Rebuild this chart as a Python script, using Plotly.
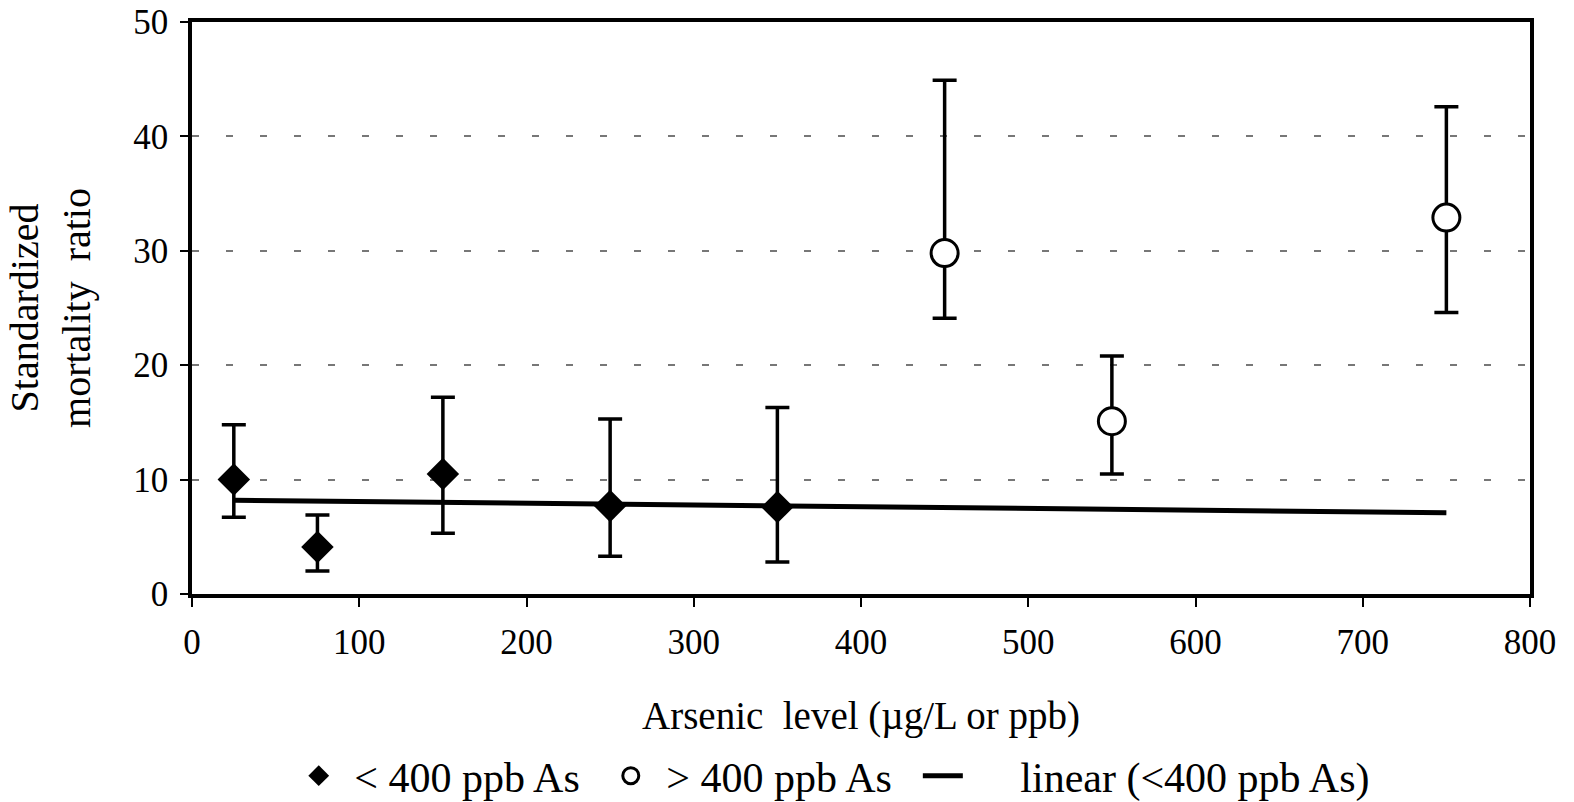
import plotly.graph_objects as go

# ---- data ----
low_x = [25, 75, 150, 250, 350]
low_y = [10.0, 4.1, 10.5, 7.7, 7.6]
low_hi = [14.8, 6.9, 17.2, 15.3, 16.3]
low_lo = [6.7, 2.0, 5.3, 3.3, 2.8]

high_x = [450, 550, 750]
high_y = [29.8, 15.1, 32.9]
high_hi = [44.9, 20.8, 42.6]
high_lo = [24.1, 10.5, 24.6]

trend_x = [25, 750]
trend_y = [8.2, 7.1]

x_ticks = [0, 100, 200, 300, 400, 500, 600, 700, 800]
y_ticks = [0, 10, 20, 30, 40, 50]

FONT = "Liberation Serif, Times New Roman, serif"
NB = "\u00a0"

fig = go.Figure()

fig.add_trace(go.Scatter(
    x=trend_x, y=trend_y, mode="lines",
    name=NB * 5 + "linear (<400 ppb As)", legendrank=3,
    line=dict(color="black", width=5),
))

fig.add_trace(go.Scatter(
    x=low_x, y=low_y, mode="markers",
    name=NB + "< 400 ppb As" + NB * 2, legendrank=1,
    marker=dict(symbol="diamond", size=25, color="black"),
    error_y=dict(type="data", symmetric=False,
                 array=[h - v for h, v in zip(low_hi, low_y)],
                 arrayminus=[v - l for v, l in zip(low_y, low_lo)],
                 color="black", thickness=3.5, width=12),
))

fig.add_trace(go.Scatter(
    x=high_x, y=high_y, mode="markers",
    name=NB + "> 400 ppb As" + NB * 2, legendrank=2,
    marker=dict(symbol="circle", size=27, color="white",
                line=dict(color="black", width=3)),
    error_y=dict(type="data", symmetric=False,
                 array=[h - v for h, v in zip(high_hi, high_y)],
                 arrayminus=[v - l for v, l in zip(high_y, high_lo)],
                 color="black", thickness=3.5, width=12),
))

fig.update_layout(
    width=1574, height=802,
    margin=dict(l=192, r=44, t=22, b=208, autoexpand=False),
    paper_bgcolor="white", plot_bgcolor="white",
    font=dict(family=FONT, size=35, color="black"),
    showlegend=True,
    legend=dict(orientation="h", x=0.48, xanchor="center", y=-0.318, yanchor="middle",
                font=dict(family=FONT, size=42, color="black"),
                itemwidth=40),
)

fig.update_xaxes(
    range=[0, 800], tickvals=x_ticks, ticktext=[str(v) for v in x_ticks],
    showline=True, linecolor="black", linewidth=3.5, mirror=True,
    ticks="outside", ticklen=9, tickwidth=2, tickcolor="black",
    showgrid=False, zeroline=False, automargin=False, ticklabelstandoff=5,
    ticklabeloverflow="allow",
    tickfont=dict(family=FONT, size=35),
    title=dict(text="Arsenic" + NB * 2 + "level (µg/L or ppb)",
               font=dict(family=FONT, size=39), standoff=42),
)
fig.update_yaxes(
    range=[0, 50], tickvals=y_ticks, ticktext=[str(v) for v in y_ticks],
    showline=True, linecolor="black", linewidth=3.5, mirror=True,
    ticks="outside", ticklen=8, tickwidth=2, tickcolor="black",
    showgrid=True, gridcolor="#777777", gridwidth=1.5, griddash="7px,27px",
    zeroline=False, automargin=False, ticklabelstandoff=5,
    ticklabeloverflow="allow",
    tickfont=dict(family=FONT, size=35),
    title=dict(text="Standardized<br>mortality" + NB * 2 + "ratio",
               font=dict(family=FONT, size=40), standoff=31),
)

# remove the browser's default 8px body margin so the figure sits at the page origin
fig.write_html("out.html", config={"displayModeBar": False},
               post_script="document.body.style.margin='0';")
